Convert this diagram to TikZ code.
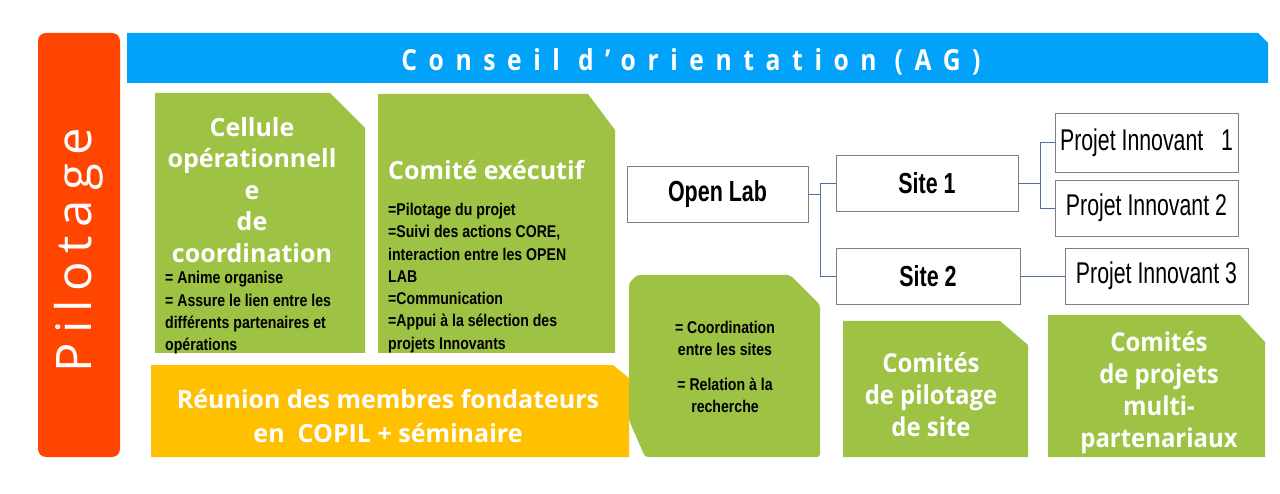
\documentclass[tikz,border=0pt]{standalone}
\usepackage{fontspec}
\setmainfont{Liberation Sans}
\newfontfamily\titlef{Open Sans}
\newfontfamily\titlenf{Open Sans}[FakeStretch=0.92]
\newfontfamily\condf{Liberation Sans}[FakeStretch=0.83]
\newfontfamily\boxf{Liberation Sans}[FakeStretch=0.71]
\newfontfamily\boxbf{Liberation Sans}[FakeStretch=0.74]
\newfontfamily\pilf{Open Sans}[LetterSpace=18]
\newfontfamily\bannerf{Open Sans}[LetterSpace=40,FakeStretch=0.85]
\definecolor{pilorange}{RGB}{255,69,0}
\definecolor{banblue}{RGB}{2,161,250}
\definecolor{cgreen}{RGB}{158,194,68}
\definecolor{cyellow}{RGB}{255,192,0}
\definecolor{connblue}{RGB}{80,110,170}
\definecolor{boxgray}{RGB}{127,127,127}
\tikzset{
  wbox/.style={draw=boxgray, line width=0.8pt, fill=white, inner sep=0pt, font=\boxf\fontsize{30}{32}\selectfont},
  sbox/.style={wbox, font=\boxbf\bfseries\fontsize{29}{32}\selectfont},
  conn/.style={draw=connblue, line width=0.9pt},
  wtitle/.style={text=white, align=center, inner sep=0pt, font=\titlef\bfseries\fontsize{25}{31.5}\selectfont},
  ltitle/.style={wtitle, font=\titlenf\bfseries\fontsize{26}{32}\selectfont},
  btext/.style={text=black, inner sep=0pt, font=\condf\bfseries\fontsize{17}{22.3}\selectfont}
}
\begin{document}
\begin{tikzpicture}[x=1pt,y=-1pt]
\useasboundingbox (0,0) rectangle (1280,494);
\fill[white] (0,0) rectangle (1280,494);
% Pilotage
\fill[pilorange, rounded corners=8pt] (38,33) rectangle (120,457);
\node[text=white, rotate=90, font=\pilf\fontsize{49}{50}\selectfont, inner sep=0pt] (pilot) at (79,250) {Pilotage};
% banner
\fill[banblue] (127,33) -- (1258,33) -- (1268,43) -- (1268,83) -- (127,83) -- cycle;
\node[text=white, font=\bannerf\bfseries\fontsize{29}{30}\selectfont, inner sep=0pt] (banner) at (691,62) {Conseil d’orientation (AG)};
% green box 1
\fill[cgreen] (155,93) -- (330,93) -- (365,128) -- (365,353) -- (155,353) -- cycle;
\node[wtitle] (cellule) at (252,190) {Cellule\\opérationnell\\e\\de\\coordination};
\node[btext, anchor=west, align=left] (cellbody) at (165,313) {= Anime organise\\= Assure le lien entre les\\différents partenaires et\\opérations};
% green box 2
\fill[cgreen] (378,94) -- (588,94) -- (615,130) -- (615,353) -- (378,353) -- cycle;
\node[wtitle, anchor=west] (comex) at (388,170) {Comité exécutif};
\node[btext, anchor=west, align=left] (comexbody) at (388,278) {=Pilotage du projet\\=Suivi des actions CORE,\\interaction entre les OPEN\\LAB\\=Communication\\=Appui à la sélection des\\projets Innovants};
% yellow box
\fill[cyellow] (151,365) -- (613,365) -- (629,378) -- (629,457) -- (151,457) -- cycle;
\node[wtitle, font=\titlef\bfseries\fontsize{25}{34}\selectfont] (reunion) at (388,416) {Réunion des membres fondateurs\\en~ COPIL + séminaire};
% octagon
\fill[cgreen, rounded corners=3pt] (629,283) -- (637,275) -- (790,275) -- (820,305) -- (820,457) -- (645,457) -- (629,420) -- cycle;
\node[btext, align=center] (coord) at (725,367) {= Coordination\\entre les sites\\[12pt]= Relation à la\\recherche};
% comites pilotage de site
\fill[cgreen] (843,321) -- (1000,321) -- (1028,345) -- (1028,457) -- (843,457) -- cycle;
\node[ltitle] (cps) at (931,395) {Comités\\de pilotage\\de site};
% comites de projets
\fill[cgreen] (1048,315) -- (1240,315) -- (1265,342) -- (1265,457) -- (1048,457) -- cycle;
\node[ltitle] (cpm) at (1159,393) {Comités\\de projets\\multi-\\partenariaux};
% white boxes
\node[sbox, minimum width=181pt, minimum height=56pt] (openlab) at (717.5,194) {Open Lab};
\node[sbox, minimum width=182pt, minimum height=56pt] (site1) at (927,183) {Site 1};
\node[sbox, minimum width=184pt, minimum height=56pt] (site2) at (928,276) {Site 2};
\node[wbox, minimum width=183pt, minimum height=59pt] (pi1) at (1146.5,142.5) {Projet Innovant~~ 1};
\node[wbox, minimum width=183pt, minimum height=56pt] (pi2) at (1146.5,208) {Projet Innovant 2};
\node[wbox, minimum width=183pt, minimum height=56pt] (pi3) at (1156.5,276) {Projet Innovant 3};
% connectors
\draw[conn] (openlab.east) -- ++(12,0) |- (site1.west);
\draw[conn] (openlab.east) -- ++(12,0) |- (site2.west);
\draw[conn] (site1.east) -- ++(22,0) |- (pi1.west);
\draw[conn] (site1.east) -- ++(22,0) |- (pi2.west);
\draw[conn] (site2.east) -- (pi3.west);
\end{tikzpicture}
\end{document}
